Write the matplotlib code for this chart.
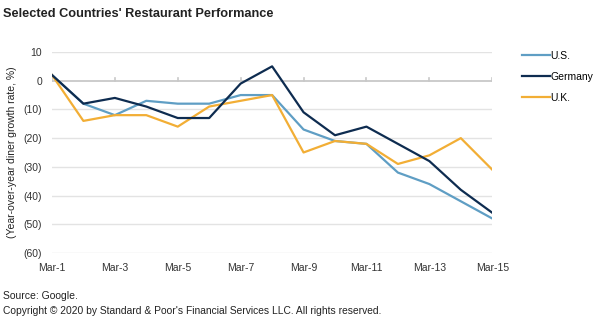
import matplotlib
matplotlib.use("Agg")
import matplotlib.pyplot as plt

plt.rcParams['font.family'] = ['Liberation Sans', 'DejaVu Sans']

days = ["Mar-1", "Mar-2", "Mar-3", "Mar-4", "Mar-5", "Mar-6", "Mar-7", "Mar-8",
        "Mar-9", "Mar-10", "Mar-11", "Mar-12", "Mar-13", "Mar-14", "Mar-15"]
us = [2, -8, -12, -7, -8, -8, -5, -5, -17, -21, -22, -32, -36, -42, -48]
germany = [2, -8, -6, -9, -13, -13, -1, 5, -11, -19, -16, -22, -28, -38, -46]
uk = [2, -14, -12, -12, -16, -9, -7, -5, -25, -21, -22, -29, -26, -20, -31]
y_ticks = [10, 0, -10, -20, -30, -40, -50, -60]
y_labels = ["10", "0", "(10)", "(20)", "(30)", "(40)", "(50)", "(60)"]

fig = plt.figure(figsize=(6.04, 3.21), dpi=100)
ax = fig.add_axes([0.086, 0.212, 0.729, 0.626])

x = list(range(len(days)))
for yv in y_ticks:
    if yv != 0:
        ax.axhline(yv, color='#e3e3e3', lw=1, zorder=0)
ax.axhline(0, color='#c8c8c8', lw=1.3, zorder=1)
for xi in x[::2]:
    ax.plot([xi, xi], [0, 0.9], color='#c8c8c8', lw=1.2, zorder=1)

ax.plot(x, us, color='#5f9ec4', lw=1.6, label='U.S.', zorder=3)
ax.plot(x, germany, color='#0e2c50', lw=1.6, label='Germany', zorder=4)
ax.plot(x, uk, color='#f2ae35', lw=1.6, label='U.K.', zorder=3)

ax.set_xlim(0, len(days) - 1)
ax.set_ylim(-60, 10)
ax.set_yticks(y_ticks)
ax.set_yticklabels(y_labels)
ax.set_xticks(x[::2])
ax.set_xticklabels(days[::2])
ax.tick_params(length=0, labelsize=7.5, colors='#333333')
ax.tick_params(axis='x', pad=7)
ax.tick_params(axis='y', pad=7)
for s in ax.spines.values():
    s.set_visible(False)

ax.set_ylabel("(Year-over-year diner growth rate, %)", fontsize=7.5, color='#222222', labelpad=5)

leg = fig.legend(loc='upper left', bbox_to_anchor=(0.848, 0.87), frameon=False,
                 fontsize=7.5, handlelength=2.7, handletextpad=0.1, labelspacing=1.05)

fig.text(0.005, 0.955, "Selected Countries' Restaurant Performance", fontsize=9.2,
         fontweight='bold', color='#222222', va='center')
fig.text(0.005, 0.078, "Source: Google.", fontsize=7.5, color='#222222', va='center')
fig.text(0.005, 0.030, "Copyright \u00a9 2020 by Standard & Poor's Financial Services LLC. All rights reserved.",
         fontsize=7.4, color='#222222', va='center')

fig.savefig("out.png", dpi=100)
